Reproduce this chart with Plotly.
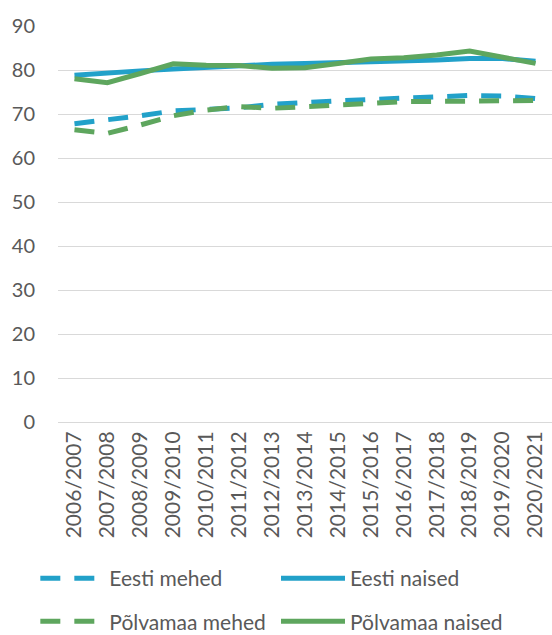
import plotly.graph_objects as go

years = ["2006/2007", "2007/2008", "2008/2009", "2009/2010", "2010/2011",
         "2011/2012", "2012/2013", "2013/2014", "2014/2015", "2015/2016",
         "2016/2017", "2017/2018", "2018/2019", "2019/2020", "2020/2021"]

eesti_mehed = [67.8, 68.6, 69.6, 70.7, 71.1, 71.4, 72.2, 72.7, 73.0, 73.3,
               73.6, 73.9, 74.2, 74.1, 73.5]
eesti_naised = [78.8, 79.4, 79.8, 80.2, 80.6, 81.0, 81.3, 81.5, 81.7, 81.8,
                81.9, 82.3, 82.6, 82.6, 82.0]
polva_mehed = [66.4, 65.6, 67.5, 69.6, 70.9, 71.7, 71.3, 71.6, 72.0, 72.4,
               72.8, 72.8, 72.8, 73.0, 73.1]
polva_naised = [78.0, 77.1, 79.2, 81.4, 81.1, 81.0, 80.4, 80.5, 81.5, 82.5,
                82.8, 83.4, 84.3, 83.0, 81.5]

blue = "#22A1C9"
green = "#5EA65E"
grey = "#595959"
font = "Lato, 'Open Sans', sans-serif"
dash = "20px,14px"

fig = go.Figure()

# each legend entry gets its own legend box so the 2x2 grid can be placed freely
fig.add_trace(go.Scatter(x=years, y=eesti_mehed, mode="lines", name="Eesti mehed",
                         line=dict(color=blue, width=5, dash=dash), legend="legend"))
fig.add_trace(go.Scatter(x=years, y=eesti_naised, mode="lines", name="Eesti naised",
                         line=dict(color=blue, width=5), legend="legend2"))
fig.add_trace(go.Scatter(x=years, y=polva_mehed, mode="lines", name="Põlvamaa mehed",
                         line=dict(color=green, width=5, dash=dash), legend="legend3"))
fig.add_trace(go.Scatter(x=years, y=polva_naised, mode="lines", name="Põlvamaa naised",
                         line=dict(color=green, width=5), legend="legend4"))


def leg(x, y):
    return dict(x=x, y=y, xref="container", yref="container",
                xanchor="left", yanchor="middle", itemwidth=64,
                font=dict(family=font, size=21, color=grey),
                bgcolor="rgba(0,0,0,0)")


fig.update_layout(
    width=552, height=635,
    margin=dict(l=58, r=0, t=26, b=213, autoexpand=False),
    paper_bgcolor="white", plot_bgcolor="white",
    font=dict(family=font, size=21, color=grey),
    showlegend=True,
    legend=leg(0.064, 0.089),
    legend2=leg(0.5, 0.089),
    legend3=leg(0.064, 0.021),
    legend4=leg(0.5, 0.021),
    xaxis=dict(type="category", range=[-0.5, 14.5], tickangle=-90,
               showgrid=False, showline=True, linecolor="#D9D9D9", linewidth=1,
               ticks="", ticklabelstandoff=0, automargin=False,
               tickfont=dict(family=font, size=21, color=grey)),
    yaxis=dict(range=[0, 90], dtick=10, showgrid=True, gridcolor="#D9D9D9",
               gridwidth=1, zeroline=False, ticks="", ticklabelstandoff=22,
               automargin=False,
               tickfont=dict(family=font, size=20, color=grey)),
)

# drop the default body margin so the figure sits at the window's corner
fig.write_html("out.html", config={"displayModeBar": False},
               post_script="document.body.style.margin='0';")
